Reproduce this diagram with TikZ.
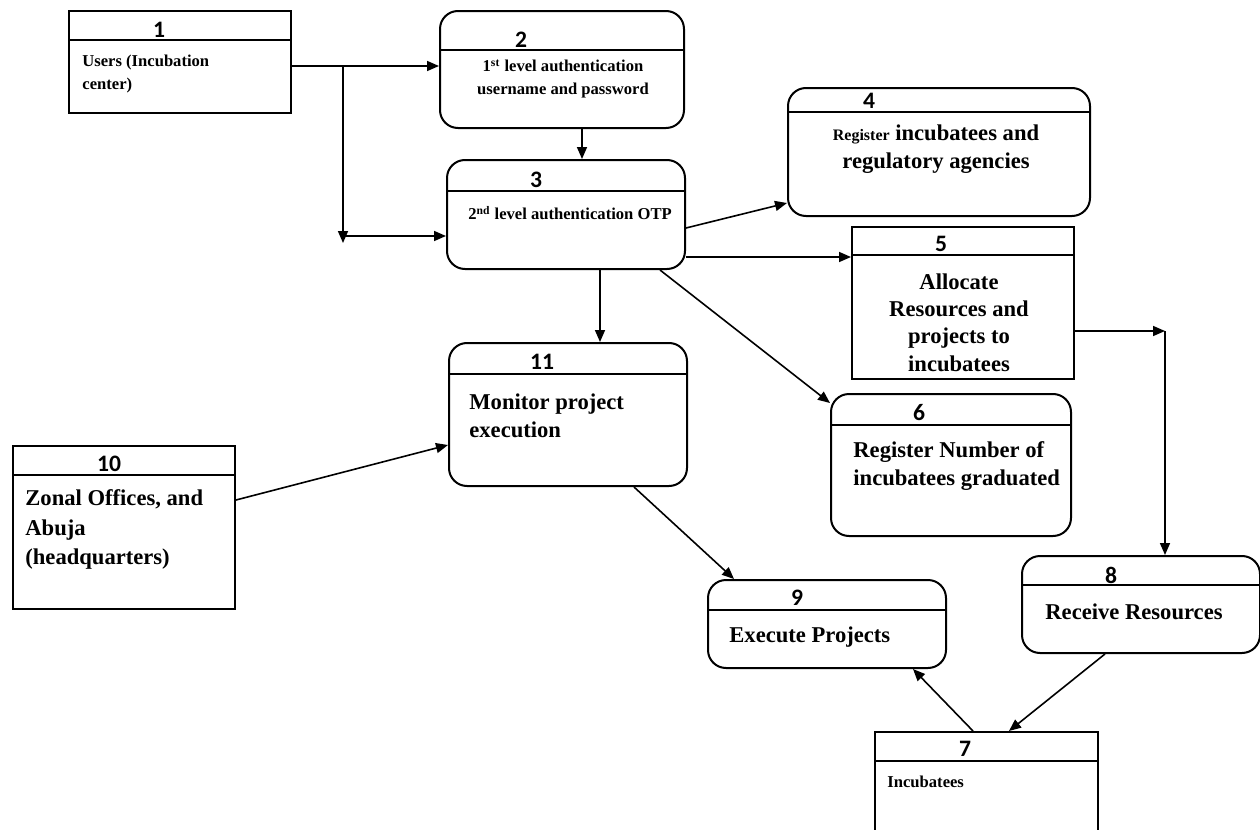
\documentclass[tikz,border=0pt]{standalone}
\usepackage{fontspec}
\setmainfont{Liberation Serif}
\newfontfamily\numfont{Carlito}
\usetikzlibrary{arrows.meta,positioning,calc}

\begin{document}
\begin{tikzpicture}[x=0.5pt,y=-0.5pt,
	sqbox/.style={draw,line width=1pt,anchor=north west,inner sep=0pt},
	rbox/.style={sqbox,rounded corners=9pt},
	num/.style={font=\numfont\bfseries\fontsize{11.8}{13}\selectfont,inner sep=0pt},
	big/.style={font=\bfseries\fontsize{11.3}{14}\selectfont,inner sep=0pt},
	small/.style={font=\bfseries\fontsize{8.3}{11.5}\selectfont,inner sep=0pt},
	arr/.style={-{Triangle[length=6pt,width=5pt]},line width=0.8pt}]
		
		\path[use as bounding box] (0,0) rectangle (1260,830);
		\clip (0,0) rectangle (1260,830);
		
		% boxes
		\node[sqbox,minimum width=111pt,minimum height=51pt] (1) at (68,10) {};
		\node[rbox,minimum width=122pt,minimum height=58.5pt] (2) at (439,10) {};
		\node[rbox,minimum width=119pt,minimum height=54.5pt] (3) at (446,159) {};
		\node[rbox,minimum width=151pt,minimum height=64pt] (4) at (787,87) {};
		\node[sqbox,minimum width=111pt,minimum height=76pt] (5) at (851,226) {};
		\node[rbox,minimum width=120pt,minimum height=71pt] (6) at (830,393) {};
		\node[sqbox,minimum width=111.5pt,minimum height=65pt] (7) at (874,731) {};
		\node[rbox,minimum width=119pt,minimum height=48.5pt] (8) at (1021,555) {};
		\node[rbox,minimum width=119pt,minimum height=44pt] (9) at (707,579) {};
		\node[sqbox,minimum width=111pt,minimum height=81.5pt] (10) at (12,445) {};
		\node[rbox,minimum width=119pt,minimum height=71.5pt] (11) at (448,342) {};
		
		\foreach \b/\y in {1/40,2/50,3/191,4/112,5/255,6/425,7/761,8/585,9/610,10/475,11/374}
			\draw[line width=0.8pt] (\b.west |- 0,\y) -- (\b.east |- 0,\y);
		
		% numbers
		\node[num] (n1) at (159,30) {1};
		\node[num] (n2) at (521,40) {2};
		\node[num] (n3) at (536,180) {3};
		\node[num] (n4) at (869,101) {4};
		\node[num] (n5) at (941,244) {5};
		\node[num] (n6) at (919,413) {6};
		\node[num] (n7) at (965,749) {7};
		\node[num] (n8) at (1111,575) {8};
		\node[num] (n9) at (797,598) {9};
		\node[num] (n10) at (109,464) {10};
		\node[num] (n11) at (542,362) {11};
		
		% texts
		\node[small,align=left,anchor=west] (t1) at (82,74) {Users (Incubation\\center)};
		\node[small,align=center] (t2) at (563,79) {1\textsuperscript{st} level authentication\\username and password};
		\node[small] (t3) at (570,213) {2\textsuperscript{nd}\ level authentication OTP};
		\node[big,align=center] (t4) at (936,149) {{\fontsize{8}{10}\selectfont Register} incubatees and\\regulatory agencies};
		\node[big,align=center,font=\bfseries\fontsize{11.3}{13.7}\selectfont] (t5) at (959,322.5) {Allocate\\Resources and\\projects to\\incubatees};
		\node[big,align=left,anchor=west] (t6) at (853,466) {Register Number of\\incubatees graduated};
		\node[big,align=left,anchor=west] (t11) at (469,416) {Monitor project\\execution};
		\node[big,align=left,anchor=west,font=\bfseries\fontsize{11.3}{14.8}\selectfont] (t10) at (25,529.5) {Zonal Offices, and\\Abuja\\(headquarters)};
		\node[big,anchor=west] (t9) at (729,637) {Execute Projects};
		\node[big,anchor=west] (t8) at (1045,612) {Receive Resources};
		\node[small,anchor=west] (t7) at (887,782) {Incubatees};
		
		% flows
		\coordinate (j1) at (343,66);
		\coordinate (j2) at (343,243);
		\coordinate (j3) at (343,236);
		\coordinate (j4) at (1165,331);
		
		\draw[arr] (1.east |- j1) -- (2.west |- j1);
		\draw[arr] (j1) -- (j2);
		\draw[arr] (j3) -- (3.west |- j3);
		\draw[arr] (582,0 |- 2.south) -- (582,0 |- 3.north);
		\draw[arr] (3.east |- 0,228) -- (4.west |- 0,203);
		\draw[arr] (3.east |- 0,257) -- (5.west |- 0,257);
		\draw[arr] (660,0 |- 3.south) -- (6.west |- 0,403);
		\draw[arr] (600,0 |- 3.south) -- (600,0 |- 11.north);
		\draw[arr] (5.east |- j4) -- (j4);
		\draw[arr] (j4) -- (j4 |- 8.north);
		\draw[arr] (10.east |- 0,500) -- (11.west |- 0,445);
		\draw[arr] (634,0 |- 11.south) -- (734,0 |- 9.north);
		\draw[arr] (1105,0 |- 8.south) -- (1009,0 |- 7.north);
		\draw[arr] (973,0 |- 7.north) -- (913,0 |- 9.south);
		
	\end{tikzpicture}
\end{document}
